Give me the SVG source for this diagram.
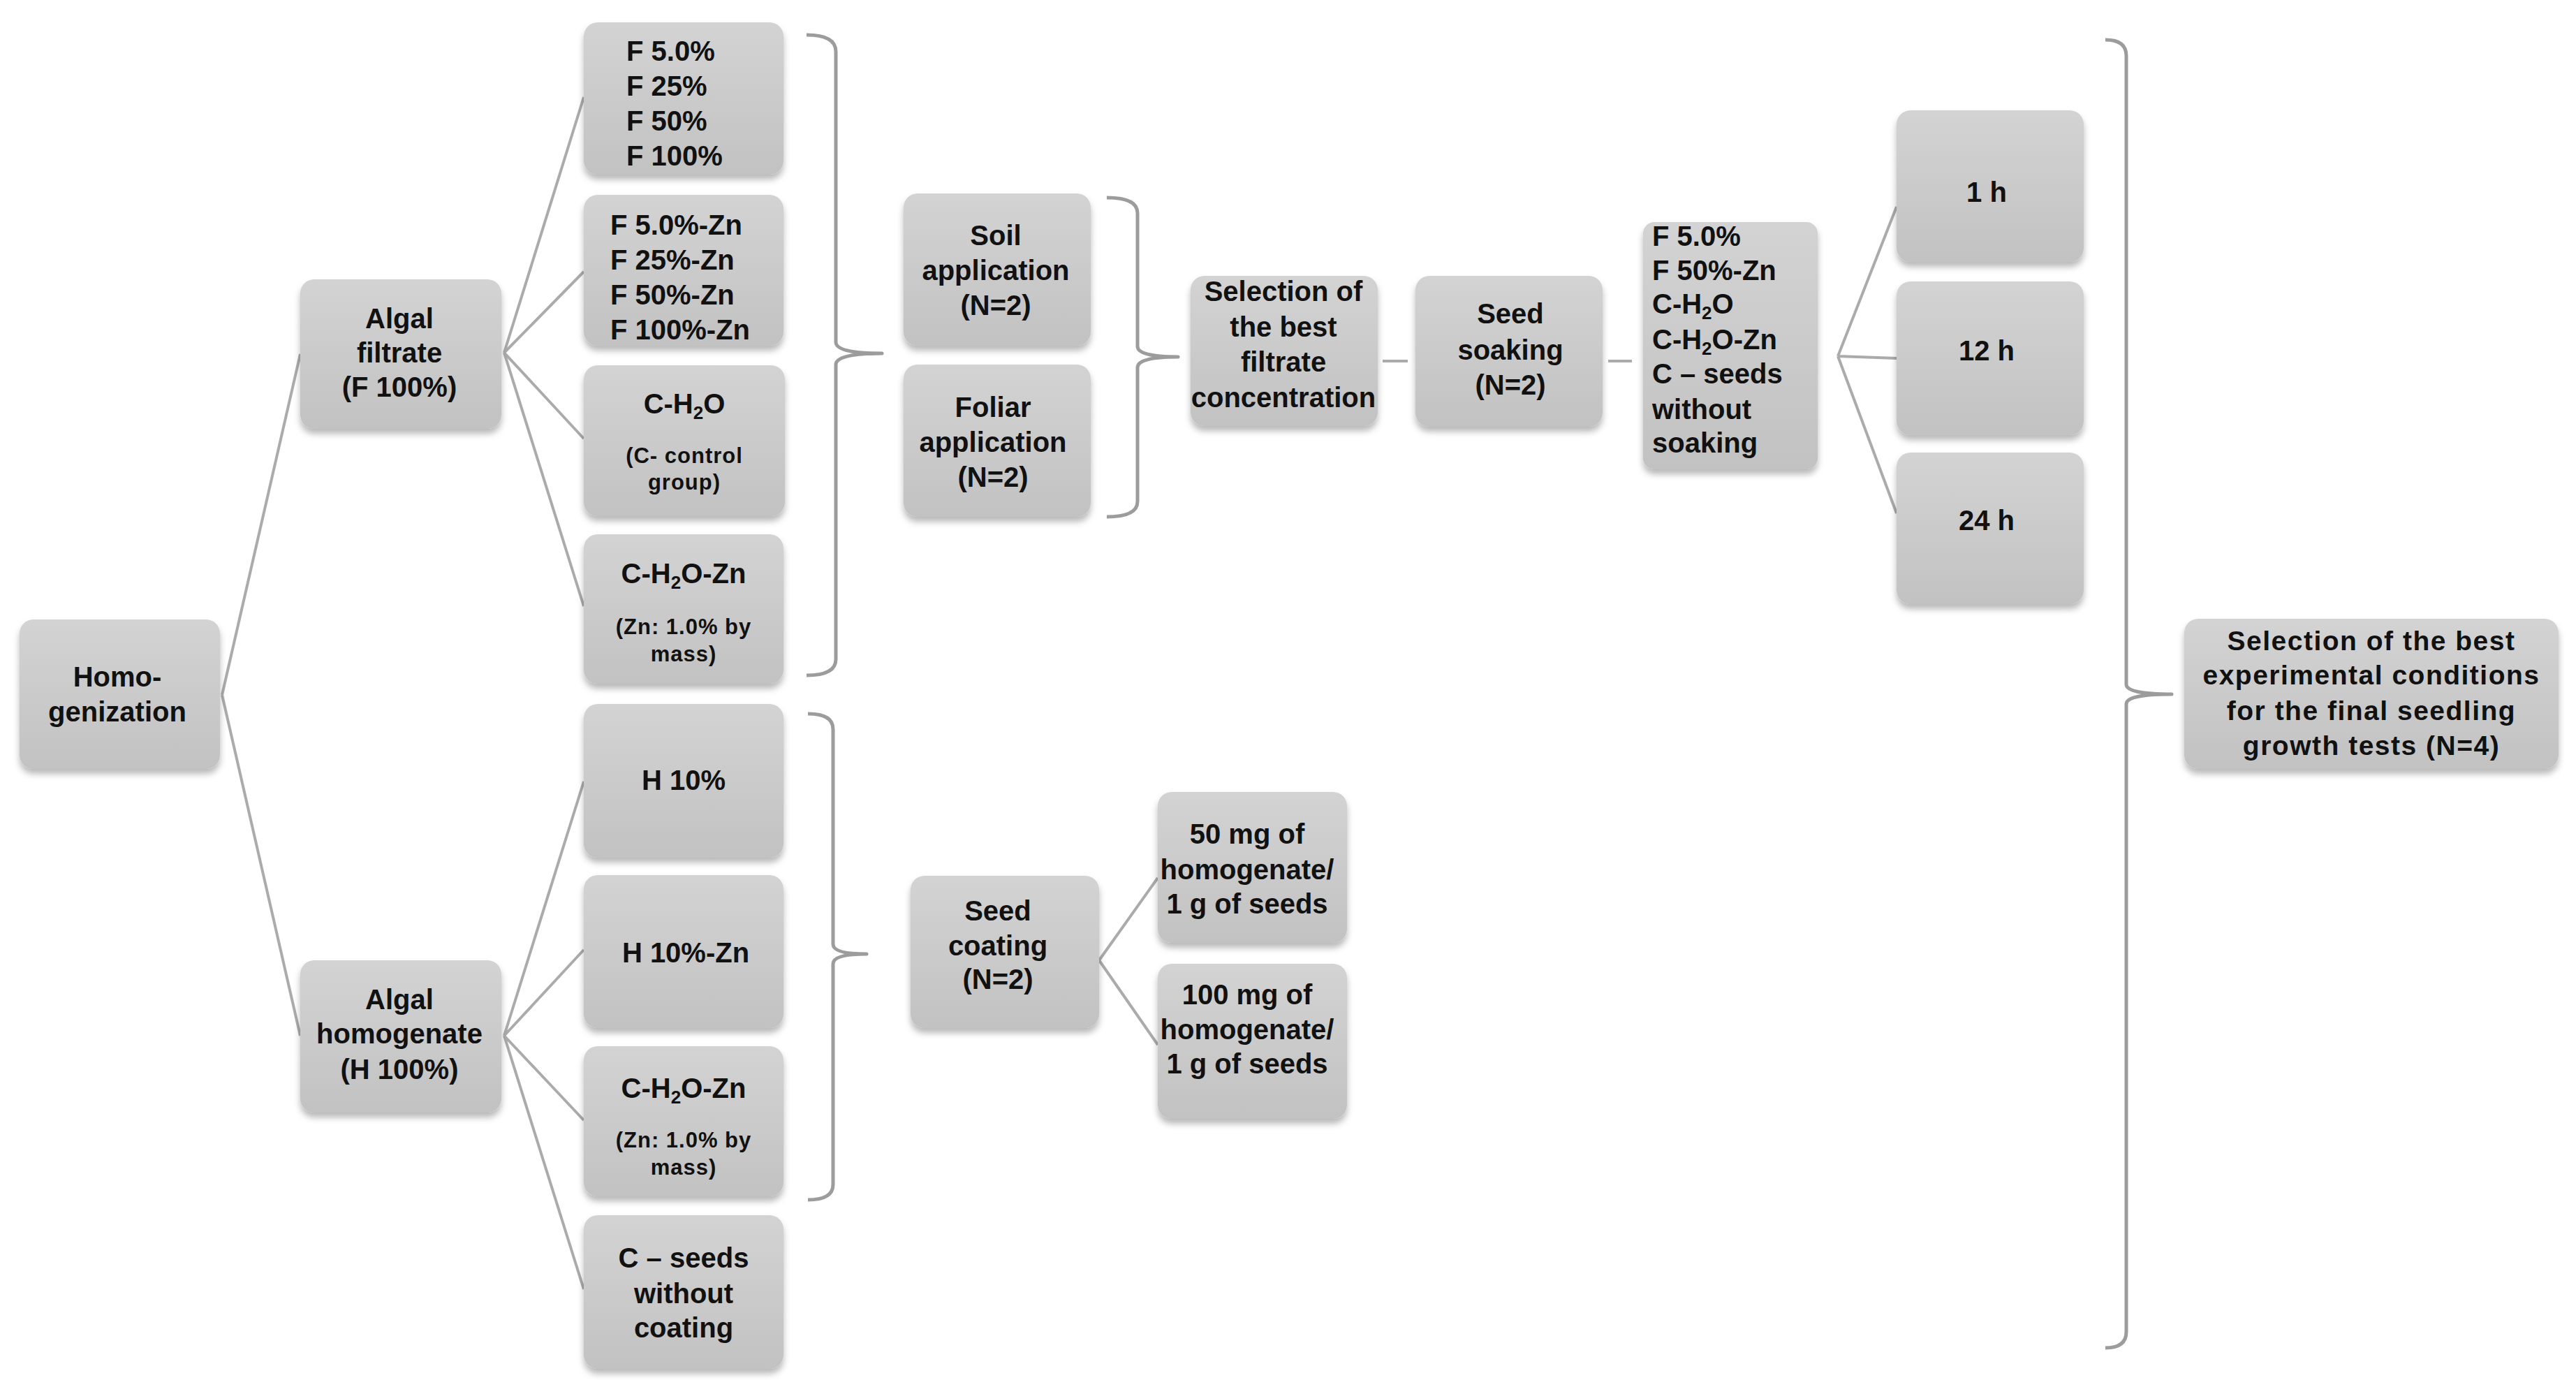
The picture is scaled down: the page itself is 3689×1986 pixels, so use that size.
<svg xmlns="http://www.w3.org/2000/svg" width="3689" height="1986" viewBox="0 0 3689 1986">
<defs>
<linearGradient id="g" x1="0" y1="0" x2="0" y2="1">
<stop offset="0" stop-color="#d3d3d3"/>
<stop offset="1" stop-color="#c2c2c2"/>
</linearGradient>
<filter id="sh" x="-10%" y="-10%" width="120%" height="130%">
<feDropShadow dx="0" dy="7" stdDeviation="5" flood-color="#000" flood-opacity="0.28"/>
</filter>
</defs>
<style>
.b{fill:url(#g);filter:url(#sh)}
.t{font-family:"Liberation Sans",Arial,sans-serif;font-weight:bold;font-size:40px;fill:#111;text-anchor:middle}
.l{text-anchor:start}
.s{font-size:31px;letter-spacing:1px}
.f{font-size:39px;letter-spacing:1.5px}
.c{stroke:#ababab;stroke-width:4;fill:none}
.br{stroke:#9c9c9c;stroke-width:5;fill:none;stroke-linejoin:round}
</style>
<rect width="3689" height="1986" fill="#fff"/>
<g id="connectors">
<path class="c" d="M318,995 L430,507 M318,995 L430,1483"/>
<path class="c" d="M722,505 L836,139 M722,505 L836,389 M722,505 L836,628 M722,505 L836,868"/>
<path class="c" d="M722,1483 L836,1119 M722,1483 L836,1360 M722,1483 L836,1604 M722,1483 L836,1846"/>
<path class="c" d="M1574,1375 L1658,1257 M1574,1375 L1658,1496"/>
<path class="c" d="M1980,517 L2016,517 M2303,517 L2337,517"/>
<path class="c" d="M2632,510 L2716,296 M2632,510 L2716,513 M2632,510 L2716,735"/>
<path class="br" d="M1155,50 Q1197,50 1197,74 L1197,490 Q1197,506 1263,506 Q1197,506 1197,522 L1197,944 Q1197,967 1155,967"/>
<path class="br" d="M1585,283 Q1629,283 1629,305 L1629,496 Q1629,511 1687,511 Q1629,511 1629,526 L1629,718 Q1629,740 1585,740"/>
<path class="br" d="M1157,1022 Q1193,1022 1193,1044 L1193,1352 Q1193,1366 1241,1366 Q1193,1366 1193,1380 L1193,1696 Q1193,1718 1157,1718"/>
<path class="br" d="M3015,57 Q3045,57 3045,80 L3045,980 Q3045,994 3110,994 Q3045,994 3045,1008 L3045,1907 Q3045,1930 3015,1930"/>
</g>
<g id="homogenization"><rect class="b" x="28" y="887" width="287" height="214" rx="20"/>
<text class="t" x="168" y="983">Homo-</text><text class="t" x="168" y="1033">genization</text></g>
<g id="algal-filtrate"><rect class="b" x="430" y="400" width="288" height="214" rx="20"/>
<text class="t" x="572" y="470">Algal</text><text class="t" x="572" y="519">filtrate</text><text class="t" x="572" y="568">(F 100%)</text></g>
<g id="algal-homogenate"><rect class="b" x="430" y="1375" width="288" height="218" rx="20"/>
<text class="t" x="572" y="1445">Algal</text><text class="t" x="572" y="1494">homogenate</text><text class="t" x="572" y="1545">(H 100%)</text></g>
<g id="f-conc"><rect class="b" x="836" y="32" width="286" height="218" rx="20"/>
<text class="t l" x="897" y="87">F 5.0%</text><text class="t l" x="897" y="137">F 25%</text><text class="t l" x="897" y="187">F 50%</text><text class="t l" x="897" y="237">F 100%</text></g>
<g id="f-zn"><rect class="b" x="836" y="279" width="286" height="216" rx="20"/>
<text class="t l" x="874" y="336">F 5.0%-Zn</text><text class="t l" x="874" y="386">F 25%-Zn</text><text class="t l" x="874" y="436">F 50%-Zn</text><text class="t l" x="874" y="486">F 100%-Zn</text></g>
<g id="c-h2o"><rect class="b" x="836" y="523" width="288" height="216" rx="20"/>
<text class="t" x="980" y="592">C-H<tspan font-size="26" dy="8">2</tspan><tspan dy="-8">O</tspan></text>
<text class="t s" x="980" y="663">(C- control</text><text class="t s" x="980" y="701">group)</text></g>
<g id="c-h2o-zn-f"><rect class="b" x="836" y="765" width="286" height="214" rx="20"/>
<text class="t" x="979" y="835">C-H<tspan font-size="26" dy="8">2</tspan><tspan dy="-8">O-Zn</tspan></text>
<text class="t s" x="979" y="908">(Zn: 1.0% by</text><text class="t s" x="979" y="947">mass)</text></g>
<g id="h10"><rect class="b" x="836" y="1008" width="286" height="220" rx="20"/>
<text class="t" x="979" y="1131">H 10%</text></g>
<g id="h10-zn"><rect class="b" x="836" y="1253" width="286" height="219" rx="20"/>
<text class="t" x="982" y="1378">H 10%-Zn</text></g>
<g id="c-h2o-zn-h"><rect class="b" x="836" y="1498" width="286" height="215" rx="20"/>
<text class="t" x="979" y="1572">C-H<tspan font-size="26" dy="8">2</tspan><tspan dy="-8">O-Zn</tspan></text>
<text class="t s" x="979" y="1643">(Zn: 1.0% by</text><text class="t s" x="979" y="1682">mass)</text></g>
<g id="c-seeds-coat"><rect class="b" x="836" y="1740" width="286" height="220" rx="20"/>
<text class="t" x="979" y="1815">C – seeds</text><text class="t" x="979" y="1866">without</text><text class="t" x="979" y="1915">coating</text></g>
<g id="soil"><rect class="b" x="1294" y="277" width="268" height="218" rx="20"/>
<text class="t" x="1426" y="351">Soil</text><text class="t" x="1426" y="401">application</text><text class="t" x="1426" y="451">(N=2)</text></g>
<g id="foliar"><rect class="b" x="1294" y="522" width="268" height="218" rx="20"/>
<text class="t" x="1422" y="597">Foliar</text><text class="t" x="1422" y="647">application</text><text class="t" x="1422" y="697">(N=2)</text></g>
<g id="select-filtrate"><rect class="b" x="1705" y="395" width="268" height="215" rx="20"/>
<text class="t" x="1838" y="431">Selection of</text><text class="t" x="1838" y="482">the best</text><text class="t" x="1838" y="532">filtrate</text><text class="t" x="1838" y="583">concentration</text></g>
<g id="seed-soaking"><rect class="b" x="2027" y="395" width="268" height="216" rx="20"/>
<text class="t" x="2163" y="463">Seed</text><text class="t" x="2163" y="515">soaking</text><text class="t" x="2163" y="565">(N=2)</text></g>
<g id="soak-list"><rect class="b" x="2353" y="318" width="250" height="354" rx="16"/>
<text class="t l" x="2366" y="352">F 5.0%</text><text class="t l" x="2366" y="401">F 50%-Zn</text>
<text class="t l" x="2366" y="449">C-H<tspan font-size="26" dy="8">2</tspan><tspan dy="-8">O</tspan></text>
<text class="t l" x="2366" y="500">C-H<tspan font-size="26" dy="8">2</tspan><tspan dy="-8">O-Zn</tspan></text>
<text class="t l" x="2366" y="549">C – seeds</text><text class="t l" x="2366" y="600">without</text><text class="t l" x="2366" y="648">soaking</text></g>
<g id="t1h"><rect class="b" x="2716" y="158" width="268" height="217" rx="20"/>
<text class="t" x="2845" y="289">1 h</text></g>
<g id="t12h"><rect class="b" x="2716" y="403" width="268" height="220" rx="20"/>
<text class="t" x="2845" y="516">12 h</text></g>
<g id="t24h"><rect class="b" x="2716" y="648" width="268" height="217" rx="20"/>
<text class="t" x="2845" y="759">24 h</text></g>
<g id="seed-coating"><rect class="b" x="1304" y="1254" width="270" height="218" rx="20"/>
<text class="t" x="1429" y="1318">Seed</text><text class="t" x="1429" y="1368">coating</text><text class="t" x="1429" y="1416">(N=2)</text></g>
<g id="mg50"><rect class="b" x="1658" y="1134" width="271" height="216" rx="20"/>
<text class="t" x="1786" y="1208">50 mg of</text><text class="t" x="1786" y="1259">homogenate/</text><text class="t" x="1786" y="1308">1 g of seeds</text></g>
<g id="mg100"><rect class="b" x="1658" y="1380" width="271" height="222" rx="20"/>
<text class="t" x="1786" y="1438">100 mg of</text><text class="t" x="1786" y="1488">homogenate/</text><text class="t" x="1786" y="1537">1 g of seeds</text></g>
<g id="final"><rect class="b" x="3128" y="886" width="536" height="215" rx="20"/>
<text class="t f" x="3396" y="931">Selection of the best</text><text class="t f" x="3396" y="980">experimental conditions</text>
<text class="t f" x="3396" y="1031">for the final seedling</text><text class="t f" x="3396" y="1081">growth tests (N=4)</text></g>
</svg>
